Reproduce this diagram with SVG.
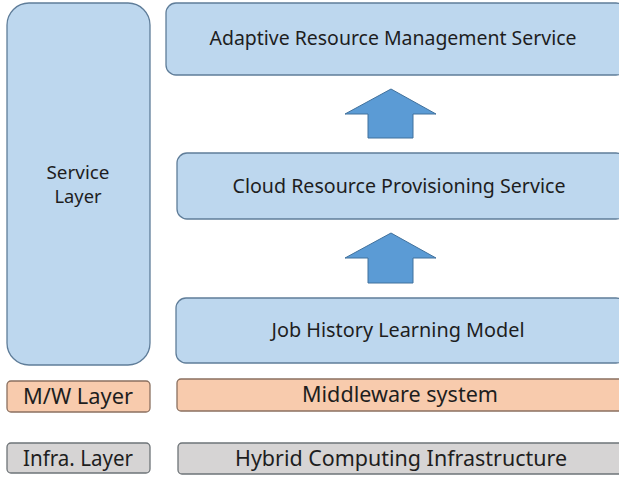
<svg xmlns="http://www.w3.org/2000/svg" width="619" height="477" viewBox="0 0 619 477">
  <style>
    .blue { fill: #BDD7EE; stroke: #5F7D99; stroke-width: 1.3; }
    .orange { fill: #F8CBAD; stroke: #8A7060; stroke-width: 1.3; }
    .grey { fill: #D6D4D4; stroke: #6E7478; stroke-width: 1.3; }
    .arrow { fill: #5B9BD5; stroke: #41719C; stroke-width: 1; }
    text { font-family: "Noto Sans", "Open Sans", sans-serif; font-size: 19.5px; fill: #1E1E1E; text-anchor: middle; }
    .small { font-size: 21px; }
    .side { font-size: 17.5px; }
  </style>
  <rect width="619" height="477" fill="#FFFFFF"/>

  <g id="service-layer">
    <rect class="blue" x="7" y="3" width="143" height="362" rx="22"/>
    <text class="side" x="78" y="179" textLength="63" lengthAdjust="spacingAndGlyphs">Service</text>
    <text class="side" x="78" y="203" textLength="47" lengthAdjust="spacingAndGlyphs">Layer</text>
  </g>

  <g id="adaptive-resource-management">
    <rect class="blue" x="166" y="3" width="460" height="72" rx="10"/>
    <text x="393" y="45" textLength="367" lengthAdjust="spacingAndGlyphs">Adaptive Resource Management Service</text>
  </g>

  <g id="cloud-resource-provisioning">
    <rect class="blue" x="177" y="153" width="449" height="66" rx="10"/>
    <text x="399" y="193" textLength="333" lengthAdjust="spacingAndGlyphs">Cloud Resource Provisioning Service</text>
  </g>

  <g id="job-history-learning">
    <rect class="blue" x="176" y="298" width="450" height="65" rx="10"/>
    <text x="398" y="337" textLength="253" lengthAdjust="spacingAndGlyphs">Job History Learning Model</text>
  </g>

  <g id="mw-layer">
    <rect class="orange" x="7" y="381" width="143" height="31" rx="4"/>
    <text class="small" x="78" y="404" textLength="110" lengthAdjust="spacingAndGlyphs">M/W Layer</text>
  </g>

  <g id="middleware-system">
    <rect class="orange" x="177" y="379" width="449" height="32" rx="4"/>
    <text class="small" x="400" y="402" textLength="196" lengthAdjust="spacingAndGlyphs">Middleware system</text>
  </g>

  <g id="infra-layer">
    <rect class="grey" x="7" y="443" width="143" height="30" rx="4"/>
    <text class="small" x="78" y="466" textLength="110" lengthAdjust="spacingAndGlyphs">Infra. Layer</text>
  </g>

  <g id="hybrid-computing">
    <rect class="grey" x="178" y="443" width="448" height="31" rx="4"/>
    <text class="small" x="401" y="466" textLength="332" lengthAdjust="spacingAndGlyphs">Hybrid Computing Infrastructure</text>
  </g>

  <g id="connectors">
    <polygon class="arrow" points="391,89 436,114 413,114 413,138 368,138 368,114 345,114"/>
    <polygon class="arrow" points="391,233 436,258 413,258 413,283 368,283 368,258 345,258"/>
  </g>
</svg>
